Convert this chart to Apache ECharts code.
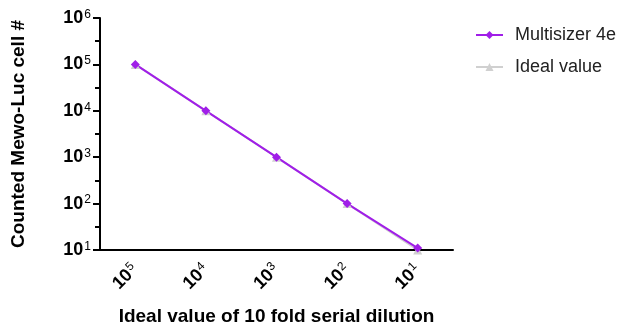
<!DOCTYPE html>
<html><head><meta charset="utf-8">
<script src="https://cdn.jsdelivr.net/npm/echarts@6/dist/echarts.min.js"></script>
<style>html,body{margin:0;padding:0;background:#fff}#c{width:617px;height:331px}</style>
</head><body><div id="c"></div>
<script>
const categories = ['5', '4', '3', '2', '1']; // exponents of 10 for x labels
const multisizer = [100000, 10000, 1000, 100, 11];
const ideal = [100000, 10000, 1000, 100, 10];
const seriesNames = ['Multisizer 4e', 'Ideal value'];
const yTitle = 'Counted Mewo-Luc cell #';
const xTitle = 'Ideal value of 10 fold serial dilution';
const yMin = 10, yMax = 1000000;

const FONT = 'Liberation Sans, Arial, sans-serif';
const PURPLE = '#a01ee8';
const GREY = '#d0d0d0';
const chart = echarts.init(document.getElementById('c'));
chart.setOption({
  animation: false,
  textStyle: {fontFamily: FONT},
  grid: {left: 100, right: 164, top: 18, bottom: 79, containLabel: false},
  legend: {
    orient: 'vertical', left: 470, top: 21, itemGap: 14, itemWidth: 27, itemHeight: 10,
    data: seriesNames,
    textStyle: {fontSize: 18, color: '#222', fontFamily: FONT, padding: [0, 0, 0, 7]}
  },
  xAxis: {
    type: 'category', data: categories, boundaryGap: true,
    axisLine: {lineStyle: {color: '#000', width: 2}},
    axisTick: {alignWithLabel: true, length: 7, lineStyle: {color: '#000', width: 2}},
    axisLabel: {
      rotate: 45, margin: 17, color: '#000',
      formatter: v => '{b|10}{s|' + v + '}',
      rich: {b: {fontSize: 18, fontWeight: 'bold', fontFamily: FONT, color: '#000'},
             s: {fontSize: 12, fontFamily: FONT, color: '#000', padding: [0, 0, 8, 1]}}
    },
    name: xTitle, nameLocation: 'middle', nameGap: 57,
    nameTextStyle: {fontSize: 19, fontWeight: 'bold', color: '#000', fontFamily: FONT}
  },
  yAxis: [{
    type: 'log', logBase: 10, min: yMin, max: yMax,
    axisLine: {show: true, lineStyle: {color: '#000', width: 2}},
    axisTick: {show: true, length: 7, lineStyle: {color: '#000', width: 2}},
    splitLine: {show: false},
    axisLabel: {
      margin: 9, color: '#000',
      formatter: v => '{b|10}{s|' + Math.round(Math.log10(v)) + '}',
      rich: {b: {fontSize: 18, fontWeight: 'bold', fontFamily: FONT, color: '#000'},
             s: {fontSize: 12, fontFamily: FONT, color: '#000', padding: [0, 0, 7, 1]}}
    },
    name: yTitle, nameLocation: 'middle', nameGap: 72,
    nameTextStyle: {fontSize: 19, fontWeight: 'bold', color: '#000', fontFamily: FONT}
  }, {
    // helper axis in log10 space, only for the half-decade minor ticks
    type: 'value', position: 'left', offset: 0,
    min: Math.log10(yMin), max: Math.log10(yMax), interval: 0.5,
    axisLine: {show: true, lineStyle: {color: 'rgba(0,0,0,0)'}},
    axisLabel: {show: false}, splitLine: {show: false},
    axisTick: {show: true, length: 5, lineStyle: {color: '#000', width: 2}}
  }],
  series: [
    {name: 'Ideal value', type: 'line', data: ideal, symbol: 'triangle', symbolSize: 9,
     itemStyle: {color: GREY}, lineStyle: {color: GREY, width: 2}},
    {name: 'Multisizer 4e', type: 'line', data: multisizer, symbol: 'diamond', symbolSize: 9,
     itemStyle: {color: PURPLE}, lineStyle: {color: PURPLE, width: 2}}
  ]
});
</script></body></html>
